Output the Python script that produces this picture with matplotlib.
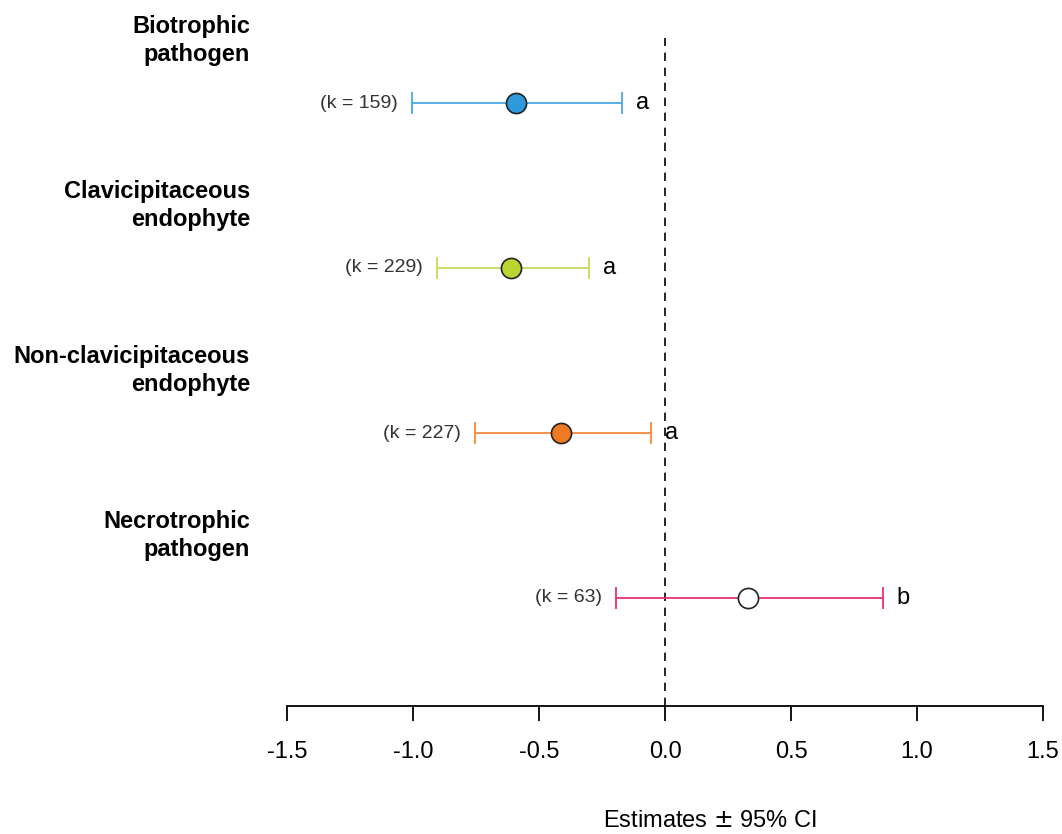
import matplotlib
matplotlib.use('Agg')
import matplotlib.pyplot as plt
import numpy as np

plt.rcParams['font.family'] = ['Liberation Sans', 'DejaVu Sans']

# data
groups = ['Biotrophic\npathogen', 'Clavicipitaceous\nendophyte',
          'Non-clavicipitaceous\nendophyte', 'Necrotrophic\npathogen']
est = [-0.591, -0.611, -0.413, 0.329]
ci_lo = [-1.004, -0.905, -0.754, -0.194]
ci_hi = [-0.171, -0.302, -0.056, 0.865]
k_n = [159, 229, 227, 63]
letters = ['a', 'a', 'a', 'b']
fills = ['#2C9ADB', '#BBD42F', '#F07A24', 'white']
lines = ['#49A9E3', '#C6DB5E', '#F28A3E', '#E8336E']

ypos = [4, 3, 2, 1]

fig = plt.figure(figsize=(10.62, 8.34), dpi=100)
ax = fig.add_axes([287/1062, (834-706)/834, (1043-287)/1062, 706/834])
ax.set_xlim(-1.5, 1.5)
ax.set_ylim(1 - 108/165, 4 + 103/165)

ax.vlines(0, 1 - 108/165, 4 + 65/165, colors='black', linestyles=(0, (5, 4)), lw=1.2)

for i in range(len(groups)):
    y = ypos[i]
    ax.errorbar(est[i], y, xerr=[[est[i]-ci_lo[i]], [ci_hi[i]-est[i]]],
                fmt='none', ecolor=lines[i], elinewidth=1.3, capsize=8, capthick=1.3)
    ax.plot(est[i], y, 'o', ms=14.5, mfc=fills[i], mec='#222222', mew=1.2, zorder=5)
    ax.annotate('(k = %d)' % k_n[i], (ci_lo[i], y), xytext=(-10, 0),
                textcoords='offset points', ha='right', va='center',
                fontsize=14, color='#333333')
    ax.annotate(letters[i], (ci_hi[i], y), xytext=(10, 0),
                textcoords='offset points', ha='left', va='center', fontsize=17)
    ax.text(-1.5 - 37/252, y + 0.38, groups[i], ha='right', va='center',
            fontsize=17, fontweight='bold', linespacing=1.25, clip_on=False)

for s in ['top', 'right', 'left']:
    ax.spines[s].set_visible(False)
ax.spines['bottom'].set_linewidth(1.3)
ax.set_yticks([])
ax.set_xticks(np.arange(-1.5, 1.51, 0.5))
ax.set_xticklabels(['%.1f' % t for t in np.arange(-1.5, 1.51, 0.5)], fontsize=17)
ax.tick_params(axis='x', length=11, width=1.3, pad=14)
fig.text(710/1062, 1 - 821/834, 'Estimates $\\pm$ 95% CI', ha='center', va='center', fontsize=17)

fig.savefig('out.png', dpi=100)
